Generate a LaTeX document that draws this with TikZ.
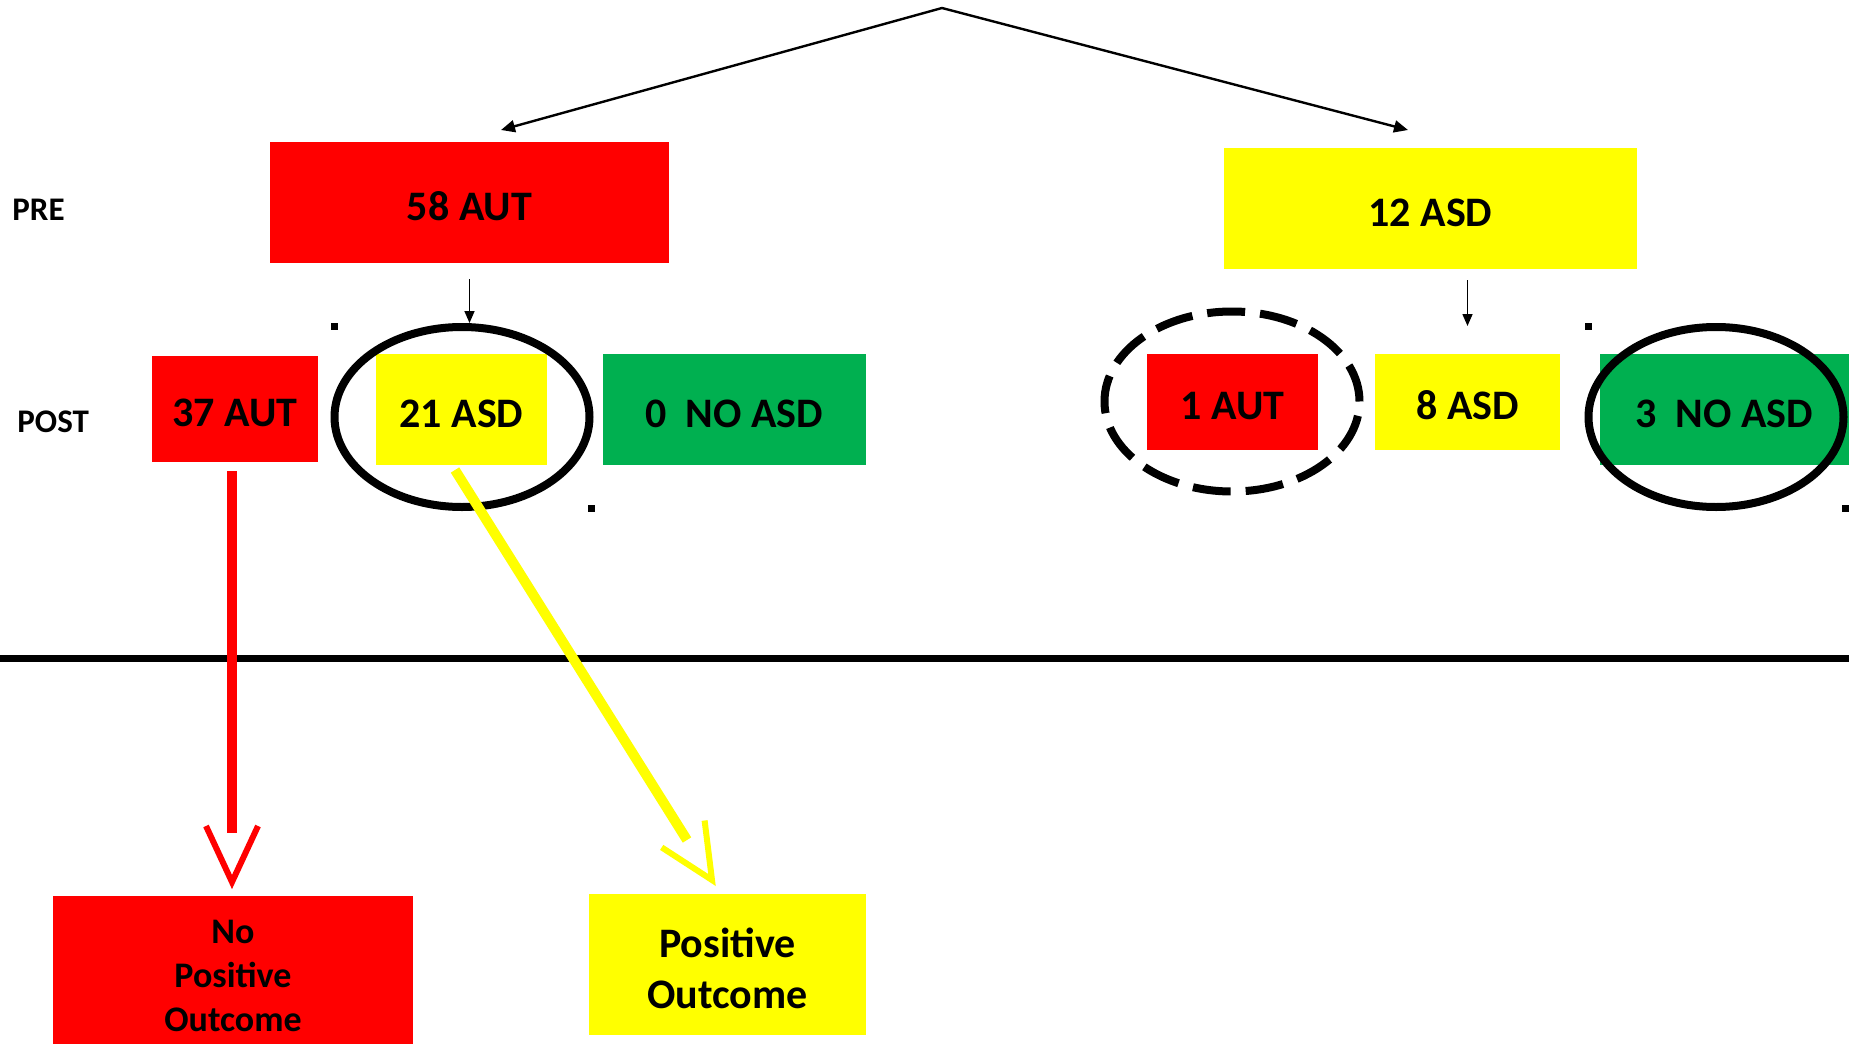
\documentclass[tikz,border=0pt]{standalone}
\usepackage{fontspec}
\setmainfont{Carlito}
\usetikzlibrary{shapes.geometric,arrows.meta,calc}
\definecolor{bred}{RGB}{255,0,0}
\definecolor{byel}{RGB}{255,255,0}
\definecolor{bgreen}{RGB}{0,176,80}
\begin{document}
\begin{tikzpicture}[x=0.5pt,y=-0.5pt,
 plainbox/.style={rectangle, inner sep=0pt, outer sep=0pt, text=black,
   font=\bfseries\fontsize{21}{25.5}\selectfont},
 box/.style={plainbox, text height=17.5pt, text depth=0pt},
 redbox/.style={box, fill=bred},
 yelbox/.style={box, fill=byel},
 grnbox/.style={box, fill=bgreen},
 outtext/.style={align=center, inner sep=0pt, text=black},
 rowlabel/.style={anchor=west, inner sep=0pt, font=\bfseries\fontsize{16.5}{20}\selectfont},
 ring/.style={ellipse, draw=black, line width=4pt, inner sep=0pt,
   minimum width=127.5pt, minimum height=90pt},
 dashring/.style={ring, dash pattern=on 19pt off 7.5pt},
 toparrow/.style={line width=1.2pt, line join=miter, {Triangle[length=7pt,width=6pt]}-{Triangle[length=7pt,width=6pt]}},
 downarrow/.style={line width=0.8pt, -{Triangle[length=6pt,width=5pt]}},
 fatline/.style={line width=5pt},
 headline/.style={line width=3pt, line join=miter, miter limit=10},
 dot/.style={fill=black},
]
\useasboundingbox (0,0) rectangle (1849,1044);

% row labels
\node[rowlabel] (pre) at (12,209.5) {PRE};
\node[rowlabel] (post) at (17,421.5) {POST};

% PRE boxes
\node[redbox, minimum width=199.5pt, minimum height=60.5pt] (aut58) at (469.5,202.5) {58 AUT};
\node[yelbox, minimum width=206.5pt, minimum height=60.5pt] (asd12) at (1430.5,208.5) {12 ASD};

% POST boxes
\node[redbox, minimum width=83pt, minimum height=53pt] (aut37) at (235,409) {37 AUT};
\node[yelbox, minimum width=85.5pt, minimum height=55.5pt] (asd21) at (461.5,409.5) {21 ASD};
\node[grnbox, minimum width=131.5pt, minimum height=55.5pt] (noasd0) at (734.5,409.5) {0~~NO ASD};
\node[redbox, minimum width=85.5pt, minimum height=48pt] (aut1) at (1232.5,402) {1 AUT};
\node[yelbox, minimum width=92.5pt, minimum height=48pt] (asd8) at (1467.5,402) {8 ASD};
\node[grnbox, minimum width=124.5pt, minimum height=55.5pt] (noasd3) at (1724.5,409.5) {3~~NO ASD};

% outcome boxes
\node[plainbox, fill=bred, minimum width=180pt, minimum height=74pt,
  label={[name=noouttext, outtext, yshift=-3pt, font=\bfseries\fontsize{18}{22}\selectfont]center:No\\Positive\\Outcome}]
  (noout) at (233,970) {};
\node[plainbox, fill=byel, minimum width=138.5pt, minimum height=70.5pt,
  label={[name=posouttext, outtext, yshift=-1.75pt, font=\bfseries\fontsize{21}{25.5}\selectfont]center:Positive\\Outcome}]
  (posout) at (727.5,964.5) {};

% rings
\node[ring] (ring21) at (462,417) {};
\node[dashring] (ring1) at (1232,401.5) {};
\node[ring] (ring3) at (1716,417) {};

% small marks
\fill[dot] (330.5,322.5) rectangle ++(7,7);
\fill[dot] (587.5,504.5) rectangle ++(7,7);
\fill[dot] (1584.5,322.5) rectangle ++(7,7);
\fill[dot] (1841.5,504.5) rectangle ++(7,7);

% top split arrows
\coordinate (apex) at (942,8);
\coordinate (tl) at ($(aut58.north)+(31.5,-12)$);
\coordinate (tr) at ($(asd12.north)+(-22.5,-18)$);
\draw[toparrow] (tl) -- (apex) -- (tr);

% short down arrows
\draw[downarrow] ($(aut58.south)+(0,16)$) -- (aut58.south |- ring21.north);
\coordinate (d2s) at (asd12.south -| asd8.north);
\draw[downarrow] ($(d2s)+(0,11)$) -- ($(asd8.north)+(0,-28)$);

% separator
\draw[line width=3.5pt] (0,658) -- (1849,658);

% red connector with open head
\coordinate (rs) at ($(aut37.south)+(-3,9)$);
\coordinate (rt) at ($(noout.north)+(-1,-14)$);
\draw[fatline, bred] (rs) -- ($(rt)+(0,-49)$);
\draw[headline, bred] ($(rt)+(-26,-56)$) -- (rt) -- ($(rt)+(26,-56)$);

% yellow connector with open head
\coordinate (ys) at ($(asd21.south)+(-6.5,5)$);
\coordinate (yt) at ($(posout.north)+(-15.5,-14)$);
\draw[fatline, byel] (ys) -- ($(yt)+(-25,-40)$);
\draw[headline, byel] ($(yt)+(-50.3,-32.6)$) -- (yt) -- ($(yt)+(-7.4,-59.5)$);
\end{tikzpicture}
\end{document}
